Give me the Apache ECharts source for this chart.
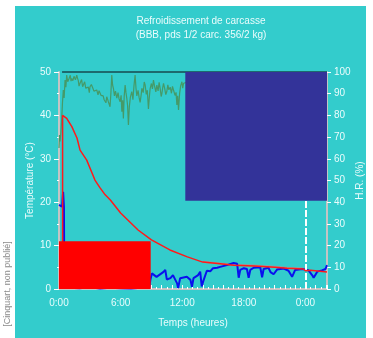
<!DOCTYPE html>
<html>
<head>
<meta charset="utf-8">
<script src="https://cdn.jsdelivr.net/npm/echarts@6/dist/echarts.min.js"></script>
<style>
  html, body { margin: 0; padding: 0; background: #fff; }
  #chart { width: 373px; height: 338px; }
</style>
</head>
<body>
<div id="chart"></div>
<script>
// temps en heures depuis 0:00
const carcassTemp = [
    [0.35, 0], [0.35, 40], [0.75, 39.3], [1.25, 37.4], [1.75, 34.8], [2.05, 32.0], [2.7, 29.7],
    [3.5, 25.1], [4.0, 23.3], [4.5, 21.7], [5.0, 20.5], [6.0, 17.5], [7.0, 15.2], [7.7, 13.6],
    [9.0, 11.3], [10.8, 9.0], [12.5, 7.4], [14.0, 6.2], [15.7, 5.8], [17.0, 5.5], [19.0, 5.3],
    [21.0, 5.0], [22.2, 4.8], [23.8, 4.6], [24.0, 4.2], [24.5, 4.3], [26.1, 3.9]
];

const probeTemp = [
    [14.0, 6.3], [15.7, 5.9], [17.0, 5.6], [19.0, 5.4], [21.0, 5.1], [22.2, 4.9], [23.8, 4.7]
];

const airTemp = [
    [0, 19.4], [0.3, 19.0], [0.4, 22.4], [0.48, 18.9], [0.52, 0.4], [1, 0.3], [2, 0.2], [3, 0.4],
    [4, 0.1], [5, 0.3], [6, 0.2], [7, 0.1], [8, 0.3], [8.8, 0.5],
    [8.9, 2.1], [9.05, 3.6], [9.2, 3.3], [9.5, 2.8], [10.15, 3.9], [10.35, 4.4], [10.5, 2.2],
    [10.85, 2.5], [11.1, 3.2], [11.5, 1.3], [11.6, 0.2], [11.8, 2.5], [12.45, 2.8], [12.8, 2.1],
    [12.95, 0.5], [13.1, 2.5], [13.55, 3.2], [13.75, 4.0], [13.9, 0.6], [14.05, 1.8], [14.4, 4.2],
    [14.55, 4.2], [14.75, 4.1], [15.0, 4.8], [15.4, 4.9], [15.7, 5.1], [16.35, 5.5], [17.0, 6.0],
    [17.35, 5.8], [17.5, 2.6], [17.65, 4.4], [18.0, 4.8], [18.3, 4.6], [18.47, 2.6], [18.63, 4.4],
    [18.96, 4.9], [19.6, 5.0], [19.78, 2.7], [19.93, 4.6], [20.4, 4.9], [20.6, 3.9], [20.9, 3.4],
    [21.25, 4.5], [21.9, 4.7], [22.35, 4.2], [22.7, 2.8], [23.0, 4.4], [23.7, 4.6], [23.85, 4.8],
    [24.3, 4.3], [24.65, 3.2], [24.8, 2.6], [25.15, 4.0], [25.6, 4.3], [25.95, 4.6], [26.1, 5.5]
];

const humidity = [
    [0, 65], [0.05, 71], [0.1, 68], [0.18, 72], [0.26, 78], [0.34, 86], [0.42, 91.7], [0.5, 88],
    [0.59, 96.3], [0.67, 93], [0.75, 98.6], [0.85, 95.5], [0.98, 97], [1.1, 98.5], [1.17, 95.8],
    [1.24, 97], [1.35, 96], [1.46, 98], [1.6, 96.4], [1.73, 98.6], [1.8, 97.2], [1.88, 96],
    [1.95, 93.5], [2.05, 94.8], [2.2, 96.5], [2.3, 93.2], [2.37, 94], [2.5, 95.5], [2.6, 92.6],
    [2.7, 93.5], [2.86, 93], [2.95, 90.5], [3.02, 93.2], [3.15, 94.2], [3.3, 92.5], [3.4, 91.2],
    [3.51, 92], [3.68, 91.7], [3.8, 89.5], [3.9, 91.4], [4.0, 90.9], [4.1, 89.2], [4.17, 90],
    [4.3, 89], [4.4, 87.2], [4.49, 88], [4.57, 85.8], [4.65, 88.6], [4.73, 87.5], [4.81, 86.3],
    [4.97, 84], [5.05, 90], [5.14, 98.6], [5.22, 94], [5.3, 92.5], [5.4, 89], [5.5, 91.2],
    [5.63, 88], [5.75, 90.5], [5.85, 87.6], [5.95, 86.3], [6.05, 89.3], [6.12, 81.7], [6.2, 87],
    [6.27, 78.6], [6.35, 88.8], [6.44, 94], [6.52, 90.6], [6.6, 88], [6.68, 84.5], [6.76, 75.6],
    [6.85, 84], [6.95, 88.4], [7.09, 91], [7.2, 87.2], [7.3, 93.5], [7.41, 98.6], [7.5, 92.4],
    [7.58, 89], [7.7, 91.5], [7.8, 88.3], [7.9, 86], [8.0, 89.4], [8.07, 92.5], [8.2, 90.5],
    [8.3, 95.4], [8.39, 94], [8.5, 89.7], [8.6, 91.6], [8.71, 83], [8.8, 88.6], [8.88, 92.5],
    [9.0, 94.7], [9.1, 92.2], [9.2, 96.3], [9.3, 93.6], [9.43, 90.8], [9.53, 94], [9.65, 91.3],
    [9.75, 95.2], [9.85, 92.5], [9.95, 88.7], [10.02, 90], [10.1, 92.8], [10.18, 94.8],
    [10.3, 92.2], [10.4, 89.6], [10.5, 91], [10.6, 94.1], [10.7, 91.8], [10.83, 93], [10.95, 90.2],
    [11.05, 93.4], [11.15, 91.7], [11.3, 89.2], [11.4, 90.6], [11.48, 84.8], [11.56, 89],
    [11.64, 82.5], [11.75, 90.3], [11.85, 93.7], [11.97, 95.5], [12.05, 92.6], [12.13, 94.8],
    [13, 96], [14, 95], [15, 97], [16, 96], [17, 98], [18, 97], [19, 98], [20, 97], [21, 98],
    [22, 99], [23, 98], [24, 99], [25, 99.5], [26.1, 99]
];

const humidityTop = [[0.3, 100], [26.1, 100]];

// [x début, x fin, y bas, y haut]
const boxRed = [[0, 8.93, 0, 11]];
const boxBlue = [[12.3, 26.1, 40.7, 100]];

const dayMark = 24;

const labelColor = '#eafcfc';
const font = 'Liberation Sans, Arial, sans-serif';

function boxRender(params, api) {
    let p0 = api.coord([api.value(0), api.value(3)]);
    let p1 = api.coord([api.value(1), api.value(2)]);
    return {
        type: 'rect',
        shape: {x: p0[0], y: p0[1], width: p1[0] - p0[0], height: p1[1] - p0[1]},
        style: {fill: api.visual('color')}
    };
}

let myChart = echarts.init(document.getElementById('chart'));
let option = {
    backgroundColor: '#ffffff',
    animation: false,
    graphic: [
        {type: 'rect', z: -10, shape: {x: 15, y: 6, width: 351, height: 332}, style: {fill: '#33cccc'}},
        {
            type: 'text', x: 8, y: 284, rotation: Math.PI / 2,
            style: {text: '[Cinquart, non publié]', fill: '#8a8a8a', font: '9px ' + font, align: 'center', verticalAlign: 'middle'}
        }
    ],
    title: {
        text: 'Refroidissement de carcasse\n(BBB, pds 1/2 carc. 356/2 kg)',
        left: 196,
        top: 9,
        textAlign: 'center',
        textStyle: {fontSize: 10, fontWeight: 'normal', color: labelColor, fontFamily: font, lineHeight: 14}
    },
    grid: {left: 59, right: 46, top: 72, bottom: 49, outerBoundsMode: 'none'},
    xAxis: {
        type: 'value',
        min: 0,
        max: 26.1,
        interval: 1,
        name: 'Temps (heures)',
        nameLocation: 'middle',
        nameGap: 29,
        nameMoveOverlap: false,
        nameTextStyle: {color: labelColor, fontSize: 10, fontFamily: font},
        axisLine: {onZero: false, lineStyle: {color: '#c4c4c4', width: 2}},
        axisTick: {inside: true, length: 4, lineStyle: {color: '#ffffff'}},
        minorTick: {show: true, splitNumber: 2, length: 2, lineStyle: {color: '#ffffff'}},
        splitLine: {show: false},
        axisLabel: {
            color: labelColor, fontSize: 10, fontFamily: font, margin: 9, showMaxLabel: false,
            formatter: v => (Math.abs(v % 6) < 1e-6 ? (v % 24) + ':00' : '')
        }
    },
    yAxis: [
        {
            type: 'value',
            min: 0,
            max: 50,
            interval: 10,
            name: 'Température (°C)',
            nameLocation: 'middle',
            nameRotate: 90,
            nameGap: 24,
            nameMoveOverlap: false,
            nameTextStyle: {color: labelColor, fontSize: 10, fontFamily: font},
            axisLine: {show: true, lineStyle: {color: '#c4c4c4', width: 2}},
            axisTick: {show: true, length: 5, lineStyle: {color: '#ffffff'}},
            minorTick: {show: true, splitNumber: 2, length: 2, lineStyle: {color: '#ffffff'}},
            splitLine: {show: false},
            axisLabel: {color: labelColor, fontSize: 10, fontFamily: font, margin: 8}
        },
        {
            type: 'value',
            min: 0,
            max: 100,
            interval: 10,
            position: 'right',
            name: 'H.R. (%)',
            nameLocation: 'middle',
            nameRotate: 90,
            nameGap: 28,
            nameMoveOverlap: false,
            nameTextStyle: {color: labelColor, fontSize: 10, fontFamily: font},
            axisLine: {show: true, lineStyle: {color: '#c4c4c4', width: 2}},
            axisTick: {show: true, length: 4, lineStyle: {color: '#ffffff'}},
            splitLine: {show: false},
            axisLabel: {color: labelColor, fontSize: 10, fontFamily: font, margin: 7}
        }
    ],
    series: [
        {
            name: 'H.R. 100',
            type: 'line',
            yAxisIndex: 1,
            data: humidityTop,
            showSymbol: false,
            lineStyle: {color: '#1d6a6e', width: 2},
            z: 2
        },
        {
            name: 'H.R.',
            type: 'line',
            yAxisIndex: 1,
            data: humidity,
            showSymbol: false,
            lineStyle: {color: '#459a68', width: 1.2},
            z: 3
        },
        {
            name: 'Sonde',
            type: 'line',
            data: probeTemp,
            showSymbol: false,
            lineStyle: {color: '#9a9a9a', width: 2},
            z: 3
        },
        {
            name: 'Air',
            type: 'line',
            data: airTemp,
            showSymbol: false,
            lineStyle: {color: '#0a10ee', width: 2},
            z: 4
        },
        {
            name: 'Carcasse',
            type: 'line',
            data: carcassTemp,
            showSymbol: false,
            lineStyle: {color: '#ff1a1a', width: 1.5},
            z: 5,
            markLine: {
                silent: true,
                symbol: 'none',
                label: {show: false},
                lineStyle: {color: '#ffffff', type: [7, 2], width: 2},
                data: [{xAxis: dayMark}]
            }
        },
        {
            type: 'custom',
            renderItem: boxRender,
            data: boxRed,
            encode: {x: [0, 1], y: [2, 3]},
            itemStyle: {color: '#ff0000'},
            z: 10
        },
        {
            type: 'custom',
            yAxisIndex: 1,
            renderItem: boxRender,
            data: boxBlue,
            encode: {x: [0, 1], y: [2, 3]},
            itemStyle: {color: '#333399'},
            z: 10
        }
    ]
};
myChart.setOption(option);
</script>
</body>
</html>
